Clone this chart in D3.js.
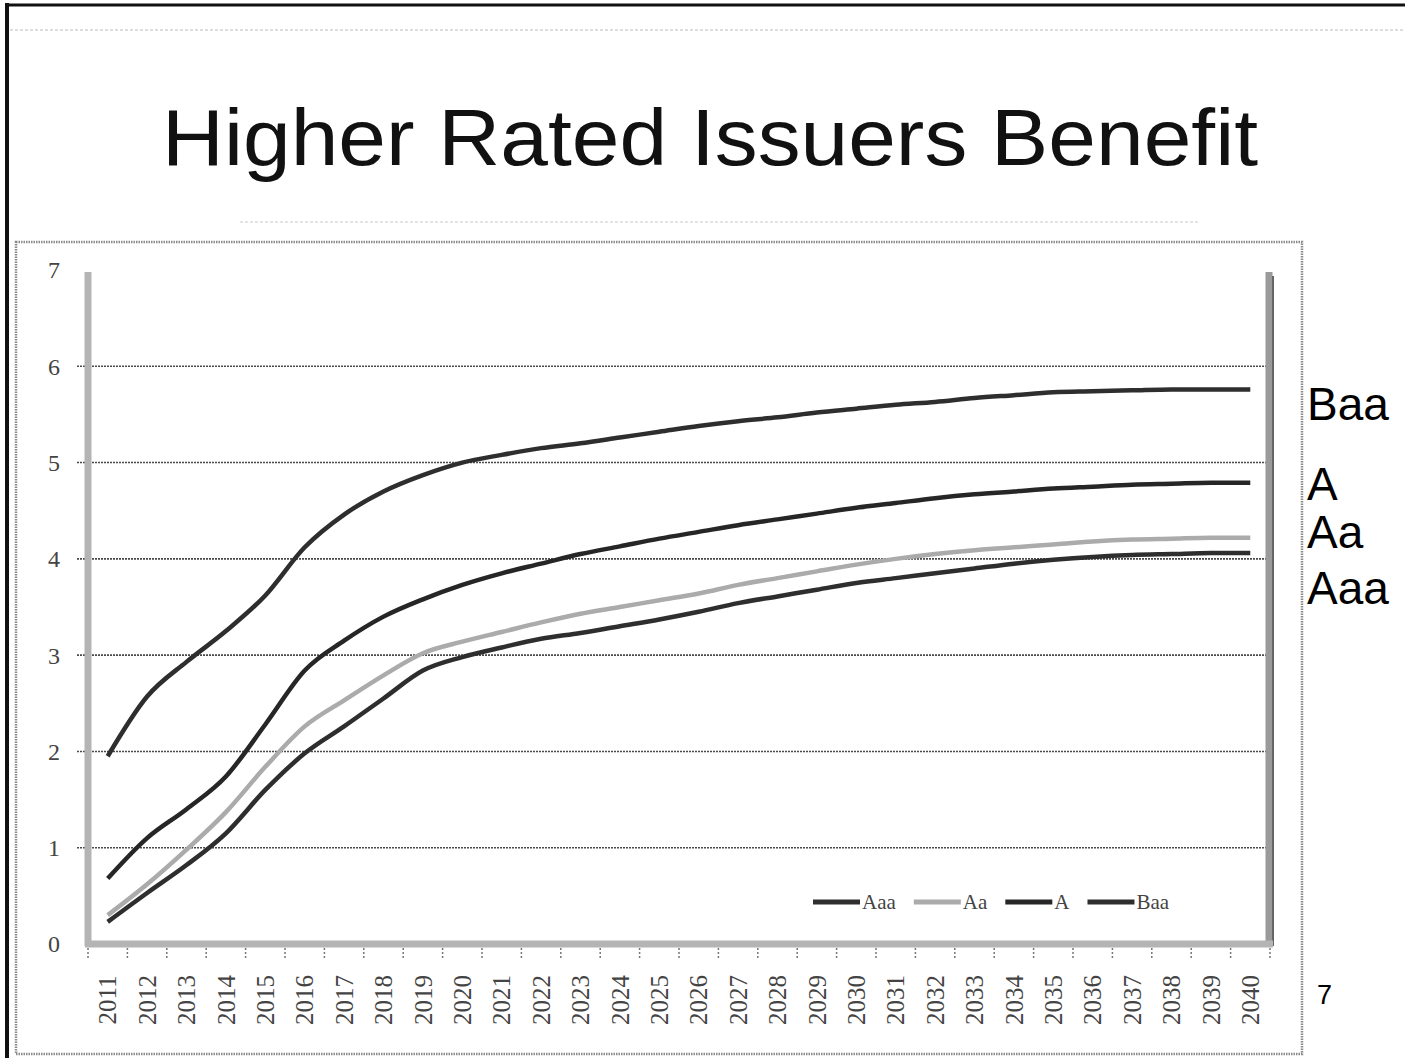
<!DOCTYPE html>
<html>
<head>
<meta charset="utf-8">
<script src="https://cdn.jsdelivr.net/npm/d3@7/dist/d3.min.js"></script>
<style>
  html, body { margin: 0; padding: 0; background: #fff; }
  svg { display: block; }
</style>
</head>
<body>
<div id="chart"></div>
<script>
// years on the category axis
const years = d3.range(2011, 2041).map(String);

// interest cost series
const aaa = [0.23, 0.53, 0.82, 1.15, 1.60, 1.98, 2.26, 2.55, 2.84, 2.98,
             3.08, 3.17, 3.23, 3.30, 3.37, 3.45, 3.54, 3.61, 3.68, 3.75,
             3.80, 3.85, 3.90, 3.95, 3.99, 4.02, 4.04, 4.05, 4.06, 4.06];
const aa = [0.30, 0.62, 0.98, 1.37, 1.84, 2.26, 2.53, 2.79, 3.02, 3.14,
            3.24, 3.34, 3.43, 3.50, 3.57, 3.64, 3.73, 3.80, 3.87, 3.94,
            4.00, 4.05, 4.09, 4.12, 4.15, 4.18, 4.20, 4.21, 4.22, 4.22];
const a = [0.68, 1.10, 1.40, 1.74, 2.28, 2.84, 3.15, 3.40, 3.58, 3.73,
           3.85, 3.95, 4.05, 4.13, 4.21, 4.28, 4.35, 4.41, 4.47, 4.53,
           4.58, 4.63, 4.67, 4.70, 4.73, 4.75, 4.77, 4.78, 4.79, 4.79];
const baa = [1.95, 2.57, 2.93, 3.25, 3.62, 4.12, 4.46, 4.70, 4.87, 5.00,
             5.08, 5.15, 5.20, 5.26, 5.32, 5.38, 5.43, 5.47, 5.52, 5.56,
             5.60, 5.63, 5.67, 5.70, 5.73, 5.74, 5.75, 5.76, 5.76, 5.76];

const seriesNames = ['Aaa', 'Aa', 'A', 'Baa'];
const yTicks = [0, 1, 2, 3, 4, 5, 6, 7];
const gridValues = [1, 2, 3, 4, 5, 6];

// labels written beside the chart, top to bottom
const sideLabels = ['Baa', 'A', 'Aa', 'Aaa'];

const title = 'Higher Rated Issuers Benefit';
const pageNumber = '7';

const width = 1405;
const height = 1058;

const series = [
    { name: 'Aaa', values: aaa, color: '#2e2e2e' },
    { name: 'Aa', values: aa, color: '#ababab' },
    { name: 'A', values: a, color: '#262626' },
    { name: 'Baa', values: baa, color: '#2e2e2e' }
];

const svg = d3.select('#chart')
    .append('svg')
    .attr('width', width)
    .attr('height', height);

// slide frame
svg.append('line')
    .attr('x1', 7).attr('x2', 7).attr('y1', 3).attr('y2', height)
    .attr('stroke', '#111').attr('stroke-width', 4);
svg.append('line')
    .attr('x1', 5).attr('x2', width).attr('y1', 5).attr('y2', 5)
    .attr('stroke', '#111').attr('stroke-width', 3);

// faint scan lines
svg.append('line')
    .attr('x1', 10).attr('x2', width).attr('y1', 30).attr('y2', 30)
    .attr('stroke', '#ddd').attr('stroke-width', 2).attr('stroke-dasharray', '3,2');
svg.append('line')
    .attr('x1', 240).attr('x2', 1200).attr('y1', 222).attr('y2', 222)
    .attr('stroke', '#e4e4e4').attr('stroke-width', 2).attr('stroke-dasharray', '3,2');

// title
svg.append('text')
    .attr('x', 710)
    .attr('y', 165)
    .attr('text-anchor', 'middle')
    .attr('textLength', 1096)
    .attr('lengthAdjust', 'spacingAndGlyphs')
    .style('font-family', 'Liberation Sans, Arial, sans-serif')
    .style('font-size', '80px')
    .attr('fill', '#111')
    .text(title);

// chart box
svg.append('rect')
    .attr('x', 16).attr('y', 242)
    .attr('width', 1286).attr('height', 812)
    .attr('fill', 'none')
    .attr('stroke', '#8a8a8a')
    .attr('stroke-width', 2.5)
    .attr('stroke-dasharray', '1.5,1');

const plotLeft = 88;
const plotRight = 1270;
const plotTop = 272;
const plotBottom = 944;

const x = d3.scaleBand()
    .domain(years)
    .range([plotLeft, plotRight])
    .paddingInner(0)
    .paddingOuter(0);

const y = d3.scaleLinear()
    .domain([0, 7])
    .range([plotBottom, 270]);

const cx = d => x(d) + x.bandwidth() / 2;

// gridlines
svg.append('g')
    .selectAll('line')
    .data(gridValues)
    .join('line')
    .attr('x1', 77)
    .attr('x2', plotRight)
    .attr('y1', d => y(d))
    .attr('y2', d => y(d))
    .attr('stroke', '#4a4a4a')
    .attr('stroke-width', 1.6)
    .attr('stroke-dasharray', '2,1');

// walls: left, right and floor
svg.append('line')
    .attr('x1', plotLeft).attr('x2', plotLeft)
    .attr('y1', plotTop).attr('y2', plotBottom + 2)
    .attr('stroke', '#b4b4b4').attr('stroke-width', 7);
svg.append('line')
    .attr('x1', plotRight - 1).attr('x2', plotRight - 1)
    .attr('y1', plotTop).attr('y2', plotBottom + 2)
    .attr('stroke', '#9a9a9a').attr('stroke-width', 7);
svg.append('line')
    .attr('x1', plotRight + 3).attr('x2', plotRight + 3)
    .attr('y1', plotTop + 4).attr('y2', plotBottom + 2)
    .attr('stroke', '#666').attr('stroke-width', 2);
svg.append('line')
    .attr('x1', plotLeft - 3).attr('x2', plotRight + 3)
    .attr('y1', plotBottom).attr('y2', plotBottom)
    .attr('stroke', '#b4b4b4').attr('stroke-width', 7);

// y tick labels
svg.append('g')
    .selectAll('text')
    .data(yTicks)
    .join('text')
    .attr('x', 54)
    .attr('y', d => y(d))
    .attr('dy', '0.35em')
    .attr('text-anchor', 'middle')
    .style('font-family', 'Liberation Serif, Times New Roman, serif')
    .style('font-size', '24px')
    .attr('fill', '#444')
    .text(d => d);

// x tick marks at band edges
const edges = years.map(d => x(d)).concat([plotRight]);
svg.append('g')
    .selectAll('line')
    .data(edges)
    .join('line')
    .attr('x1', d => d)
    .attr('x2', d => d)
    .attr('y1', plotBottom + 4)
    .attr('y2', plotBottom + 14)
    .attr('stroke', '#777')
    .attr('stroke-width', 1.5)
    .attr('stroke-dasharray', '2,2');

// x tick labels, rotated
svg.append('g')
    .selectAll('text')
    .data(years)
    .join('text')
    .attr('transform', d => `translate(${cx(d)},${1000}) rotate(-90)`)
    .attr('text-anchor', 'middle')
    .attr('dy', '0.35em')
    .style('font-family', 'Liberation Serif, Times New Roman, serif')
    .style('font-size', '25px')
    .attr('fill', '#444')
    .text(d => d);

// series lines (smoothed, like the original spreadsheet chart)
const line = d3.line()
    .curve(d3.curveMonotoneX)
    .x((d, i) => cx(years[i]))
    .y(d => y(d));

svg.append('g')
    .selectAll('path')
    .data(series)
    .join('path')
    .attr('fill', 'none')
    .attr('stroke', d => d.color)
    .attr('stroke-width', 4.5)
    .attr('stroke-linejoin', 'round')
    .attr('d', d => line(d.values));

// legend inside the plot, bottom right
const legend = svg.append('g');
let lx = 813;
const ly = 902;
for (const s of series) {
    legend.append('line')
        .attr('x1', lx).attr('x2', lx + 47)
        .attr('y1', ly).attr('y2', ly)
        .attr('stroke', s.color)
        .attr('stroke-width', 5);
    const t = legend.append('text')
        .attr('x', lx + 49)
        .attr('y', ly)
        .attr('dy', '0.35em')
        .style('font-family', 'Liberation Serif, Times New Roman, serif')
        .style('font-size', '21px')
        .attr('fill', '#444')
        .text(s.name);
    lx += 49 + t.node().getComputedTextLength() + 18;
}

// side labels next to line ends
const sideBaselines = { Baa: 420, A: 500, Aa: 548, Aaa: 604 };
svg.append('g')
    .selectAll('text')
    .data(sideLabels)
    .join('text')
    .attr('x', 1307)
    .attr('y', d => sideBaselines[d])
    .style('font-family', 'Liberation Sans, Arial, sans-serif')
    .style('font-size', '46px')
    .attr('fill', '#000')
    .text(d => d);

// page number
svg.append('text')
    .attr('x', 1317)
    .attr('y', 1004)
    .style('font-family', 'Liberation Sans, Arial, sans-serif')
    .style('font-size', '27px')
    .attr('fill', '#000')
    .text(pageNumber);
</script>
</body>
</html>
